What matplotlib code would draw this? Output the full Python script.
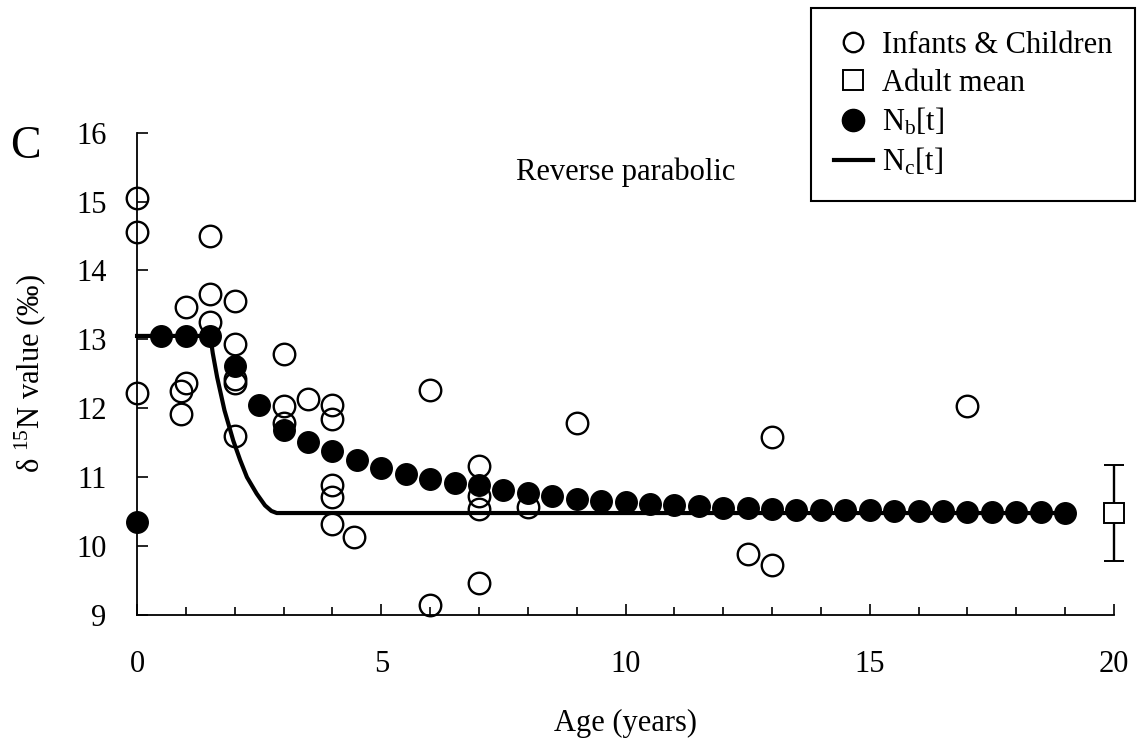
import matplotlib
matplotlib.use("Agg")
import matplotlib.pyplot as plt
from matplotlib.lines import Line2D
from matplotlib.ticker import MultipleLocator

plt.rcParams['font.family'] = ['Liberation Serif', 'DejaVu Serif']
plt.rcParams['mathtext.fontset'] = 'custom'
plt.rcParams['mathtext.rm'] = 'Liberation Serif'
plt.rcParams['mathtext.it'] = 'Liberation Serif:italic'

# infants & children (age, d15N)
child_age = [0, 0, 0, 0.9, 0.9, 1, 1, 1.5, 1.5, 1.5, 2, 2, 2, 2, 2, 3, 3, 3,
             3.5, 4, 4, 4, 4, 4, 4.45, 6, 6, 7, 7, 7, 7, 8, 9, 12.5, 13, 13, 17]
child_n15 = [15.05, 14.56, 12.22, 12.25, 11.91, 13.47, 12.36, 14.5, 13.66, 13.25,
             13.55, 12.93, 12.43, 12.36, 11.6, 12.79, 12.03, 11.78,
             12.14, 12.05, 11.84, 10.89, 10.71, 10.32, 10.13, 12.26, 9.15,
             11.16, 10.72, 10.54, 9.47, 10.57, 11.79, 9.88, 11.59, 9.72, 12.03]

# adult mean with sd
adult_age = [20]
adult_mean = [10.48]
adult_sd = [0.7]

# Nb[t], half-year steps 0..19
nb_t = [i * 0.5 for i in range(39)]
nb_v = [10.35, 13.05, 13.05, 13.05, 12.62, 12.05, 11.68, 11.51, 11.38, 11.25,
        11.13, 11.05, 10.97, 10.92, 10.88, 10.81, 10.77, 10.72, 10.68, 10.65,
        10.64, 10.61, 10.59, 10.58, 10.56, 10.56, 10.54, 10.53, 10.53, 10.52,
        10.52, 10.51, 10.51, 10.51, 10.50, 10.50, 10.50, 10.49, 10.48]

# Nc[t]
nc_t = [0, 1.5, 1.55, 1.64, 1.79, 1.97, 2.11, 2.25, 2.45, 2.62, 2.75, 2.86, 19]
nc_v = [13.05, 13.05, 12.8, 12.45, 11.97, 11.53, 11.25, 11.0, 10.76, 10.59,
        10.51, 10.48, 10.48]

fig = plt.figure(figsize=(11.43, 7.47), dpi=100)
ax = fig.add_axes([0.1199, 0.1767, 0.8547, 0.6457])

ax.plot(nc_t, nc_v, color='black', lw=3, zorder=2, clip_on=False)
ax.plot(child_age, child_n15, 'o', ms=15.5, mfc='none', mec='black', mew=1.7,
        zorder=3, clip_on=False)
ax.plot(nb_t, nb_v, 'o', ms=15.5, mfc='black', mec='black', zorder=4, clip_on=False)
ax.errorbar(adult_age, adult_mean, yerr=adult_sd, fmt='s', ms=14, mfc='white',
            mec='black', mew=1.4, ecolor='black', elinewidth=1.7, capsize=7,
            capthick=1.7, zorder=5, clip_on=False)

ax.set_xlim(0, 20)
ax.set_ylim(9, 16)
ax.xaxis.set_major_locator(MultipleLocator(5))
ax.xaxis.set_minor_locator(MultipleLocator(1))
ax.yaxis.set_major_locator(MultipleLocator(1))
for s in ['top', 'right']:
    ax.spines[s].set_visible(False)
for s in ['left', 'bottom']:
    ax.spines[s].set_linewidth(1.3)
ax.tick_params(axis='both', which='major', direction='in', length=8, width=1.2,
               labelsize=22)
ax.tick_params(axis='x', which='minor', direction='in', length=6, width=1.2)
ax.tick_params(axis='x', which='major', pad=25)
ax.tick_params(axis='y', which='major', pad=22)

ax.set_xlabel('Age (years)', fontsize=22, labelpad=22)
ax.set_ylabel('δ $^{15}$N value (‰)', fontsize=22, labelpad=20)

ax.text(10, 15.43, 'Reverse parabolic', fontsize=22, ha='center', va='center')
fig.text(0.022, 0.803, 'C', fontsize=33, ha='center', va='center')

handles = [
    Line2D([], [], ls='none', marker='o', ms=14, mfc='none', mec='black', mew=1.7),
    Line2D([], [], ls='none', marker='s', ms=14, mfc='white', mec='black', mew=1.4),
    Line2D([], [], ls='none', marker='o', ms=16, mfc='black', mec='black'),
    Line2D([], [], color='black', lw=3),
]
labels = ['Infants & Children', 'Adult mean', 'N$_\\mathrm{b}$[t]', 'N$_\\mathrm{c}$[t]']
leg = fig.legend(handles, labels, loc='upper right', bbox_to_anchor=(0.993, 0.989),
                 fontsize=22, frameon=True, fancybox=False, framealpha=1,
                 edgecolor='black', borderpad=0.75, labelspacing=0.28,
                 handlelength=1.25, handletextpad=0.3, borderaxespad=0)
leg.get_frame().set_linewidth(1.5)

fig.savefig('out.png', dpi=100)
